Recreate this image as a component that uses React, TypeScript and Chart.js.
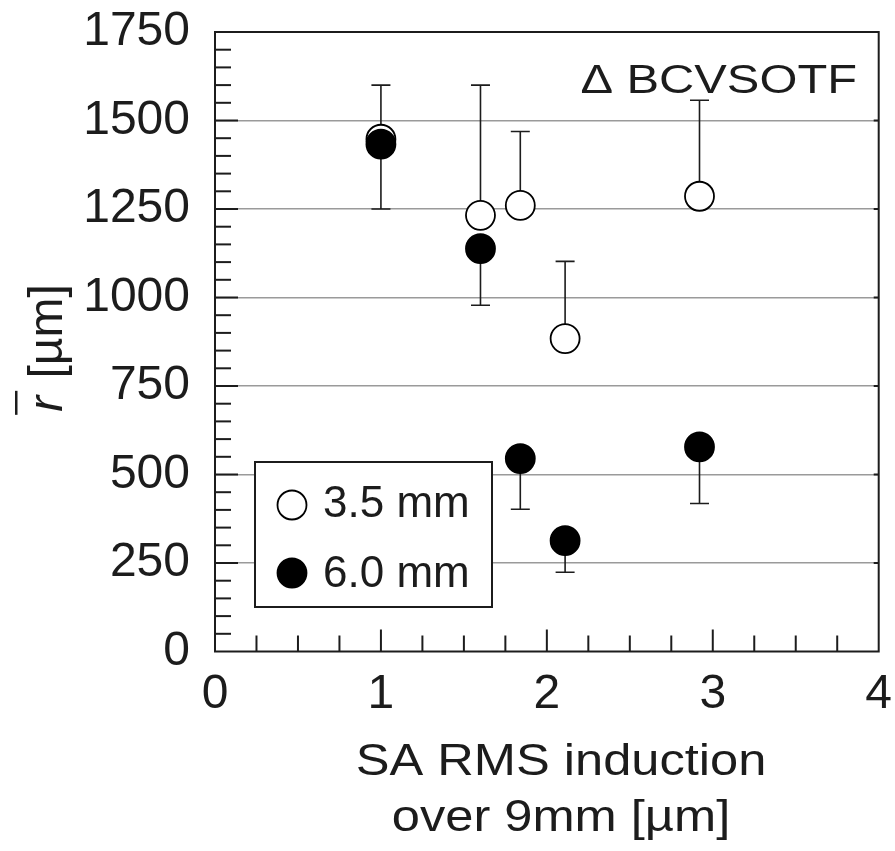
import React, { useEffect, useRef } from "react";
import { Chart, registerables } from "chart.js";

Chart.register(...registerables);

// ---- data ----
const xValues = [1.0, 1.6, 1.84, 2.11, 2.92];
const open35 = [1447, 1232, 1260, 884, 1286];
const open35Upper = [1600, 1600, 1469, 1102, 1557];
const filled60 = [1433, 1138, 545, 313, 578];
const filled60Lower = [1250, 978, 402, 224, 418];

const xMin = 0;
const xMax = 4;
const yMin = 0;
const yMax = 1750;
const yMajorStep = 250;
const yMinorStep = 50;
const xMajorStep = 1;
const xMinorStep = 0.25;

const legendLabels = ["3.5 mm", "6.0 mm"];
const annotationText = "\u0394 BCVSOTF";
const xTitleLines = ["SA RMS induction", "over 9mm [\u00b5m]"];
const yTitleVar = "r";
const yTitleUnit = " [\u00b5m]";

const FONT = "'Liberation Sans', Arial, Helvetica, sans-serif";
const INK = "#1c1c1c";

const customPlugin = {
  id: "custom",
  beforeDatasetsDraw(chart: any) {
    const { ctx, chartArea: a, scales } = chart;
    const xs = scales.x;
    const ys = scales.y;
    ctx.save();
    // frame
    ctx.strokeStyle = INK;
    ctx.lineWidth = 2;
    ctx.strokeRect(a.left, a.top, a.right - a.left, a.bottom - a.top);
    // inside ticks, y
    ctx.lineWidth = 2;
    for (let v = yMin + yMinorStep; v < yMax; v += yMinorStep) {
      const py = ys.getPixelForValue(v);
      const major = Math.abs(v % yMajorStep) < 1e-6;
      const len = major ? 23 : 16;
      ctx.beginPath();
      ctx.moveTo(a.left, py);
      ctx.lineTo(a.left + len, py);
      ctx.stroke();
      if (major) {
        ctx.beginPath();
        ctx.moveTo(a.right, py);
        ctx.lineTo(a.right - 5, py);
        ctx.stroke();
      }
    }
    // inside ticks, x
    for (let v = xMin + xMinorStep; v < xMax - 1e-9; v += xMinorStep) {
      const px = xs.getPixelForValue(v);
      const major = Math.abs(v / xMajorStep - Math.round(v / xMajorStep)) < 1e-6;
      const len = major ? 22 : 16;
      ctx.beginPath();
      ctx.moveTo(px, a.bottom);
      ctx.lineTo(px, a.bottom - len);
      ctx.stroke();
    }
    // error bars
    ctx.lineWidth = 1.6;
    ctx.strokeStyle = INK;
    const drawErr = (xv: number, yv: number, bv: number) => {
      const px = xs.getPixelForValue(xv);
      const p1 = ys.getPixelForValue(yv);
      const p2 = ys.getPixelForValue(bv);
      ctx.beginPath();
      ctx.moveTo(px, p1);
      ctx.lineTo(px, p2);
      ctx.moveTo(px - 9.5, p2);
      ctx.lineTo(px + 9.5, p2);
      ctx.stroke();
    };
    xValues.forEach((xv, i) => {
      drawErr(xv, open35[i], open35Upper[i]);
      drawErr(xv, filled60[i], filled60Lower[i]);
    });
    ctx.restore();
  },
  afterDatasetsDraw(chart: any) {
    const { ctx } = chart;
    ctx.save();
    // legend box
    const bx = 255, by = 462, bw = 237, bh = 145;
    ctx.fillStyle = "#ffffff";
    ctx.fillRect(bx, by, bw, bh);
    ctx.strokeStyle = INK;
    ctx.lineWidth = 2;
    ctx.strokeRect(bx, by, bw, bh);
    const items = [
      { label: legendLabels[0], fill: "#ffffff", cy: 505, base: 517 },
      { label: legendLabels[1], fill: "#000000", cy: 573, base: 587 },
    ];
    items.forEach((it) => {
      ctx.beginPath();
      ctx.arc(292, it.cy, 14.5, 0, Math.PI * 2);
      ctx.fillStyle = it.fill;
      ctx.fill();
      ctx.lineWidth = 1.8;
      ctx.strokeStyle = "#000";
      ctx.stroke();
      ctx.fillStyle = INK;
      ctx.font = `44px ${FONT}`;
      ctx.textAlign = "left";
      ctx.textBaseline = "alphabetic";
      ctx.fillText(it.label, 323, it.base);
    });
    // annotation
    ctx.save();
    ctx.translate(857, 93);
    ctx.scale(1.22, 1);
    ctx.font = `40px ${FONT}`;
    ctx.textAlign = "right";
    ctx.textBaseline = "alphabetic";
    ctx.fillStyle = INK;
    ctx.fillText(annotationText, 0, 0);
    ctx.restore();
    ctx.restore();
  },
  afterDraw(chart: any) {
    const { ctx } = chart;
    ctx.save();
    ctx.fillStyle = INK;
    // x title
    ctx.textAlign = "center";
    ctx.textBaseline = "alphabetic";
    ctx.font = `44px ${FONT}`;
    const baselines = [775, 831];
    xTitleLines.forEach((line, i) => {
      ctx.save();
      ctx.translate(561, baselines[i]);
      ctx.scale(1.15, 1);
      ctx.fillText(line, 0, 0);
      ctx.restore();
    });
    // y title (rotated)
    ctx.save();
    ctx.translate(62, 350);
    ctx.rotate(-Math.PI / 2);
    ctx.textAlign = "left";
    ctx.font = `italic 48px ${FONT}`;
    const wr = ctx.measureText(yTitleVar).width;
    ctx.font = `48px ${FONT}`;
    const wu = ctx.measureText(yTitleUnit).width;
    const x0 = -(wr + wu) / 2;
    ctx.font = `italic 48px ${FONT}`;
    ctx.fillText(yTitleVar, x0, 0);
    ctx.fillRect(x0 - 3, -47, wr + 8, 2.5);
    ctx.font = `48px ${FONT}`;
    ctx.fillText(yTitleUnit, x0 + wr + 4, 0);
    ctx.restore();
    ctx.restore();
  },
};

export default function App() {
  const ref = useRef<HTMLCanvasElement | null>(null);

  useEffect(() => {
    document.body.style.margin = "0";
    const canvas = ref.current;
    if (!canvas) return;
    const chart = new Chart(canvas, {
      type: "scatter",
      data: {
        datasets: [
          {
            label: legendLabels[0],
            data: xValues.map((x, i) => ({ x, y: open35[i] })),
            backgroundColor: "#ffffff",
            borderColor: "#000000",
            borderWidth: 1.8,
            pointRadius: 14.5,
            pointHoverRadius: 14.5,
            order: 2,
          },
          {
            label: legendLabels[1],
            data: xValues.map((x, i) => ({ x, y: filled60[i] })),
            backgroundColor: "#000000",
            borderColor: "#000000",
            borderWidth: 1.8,
            pointRadius: 14.5,
            pointHoverRadius: 14.5,
            order: 1,
          },
        ],
      },
      options: {
        responsive: false,
        animation: false,
        devicePixelRatio: 1,
        layout: { padding: { left: 0, right: 13, top: 32, bottom: 0 } },
        plugins: {
          legend: { display: false },
          tooltip: { enabled: false },
        },
        scales: {
          x: {
            type: "linear",
            min: xMin,
            max: xMax,
            afterFit: (s: any) => {
              s.height = 851 - 651.5;
              s.paddingLeft = 0;
              s.paddingRight = 0;
            },
            ticks: {
              stepSize: xMajorStep,
              font: { size: 48, family: FONT },
              color: INK,
              padding: 14,
              maxRotation: 0,
              callback: (v: any) => String(v),
            },
            grid: { display: false, drawTicks: false },
            border: { display: false },
          },
          y: {
            type: "linear",
            min: yMin,
            max: yMax,
            afterFit: (s: any) => {
              s.width = 215;
              s.paddingTop = 0;
              s.paddingBottom = 0;
            },
            ticks: {
              stepSize: yMajorStep,
              font: { size: 48, family: FONT },
              color: INK,
              padding: 25,
              callback: (v: any) => String(v),
            },
            grid: {
              drawTicks: false,
              lineWidth: 1.5,
              color: (c: any) =>
                c.tick && (c.tick.value === yMin || c.tick.value === yMax)
                  ? "rgba(0,0,0,0)"
                  : "#9a9a9a",
            },
            border: { display: false },
          },
        },
      },
      plugins: [customPlugin],
    } as any);
    return () => chart.destroy();
  }, []);

  return (
    <div style={{ width: 895, height: 851, background: "#fff" }}>
      <canvas ref={ref} width={895} height={851} style={{ display: "block" }} />
    </div>
  );
}
